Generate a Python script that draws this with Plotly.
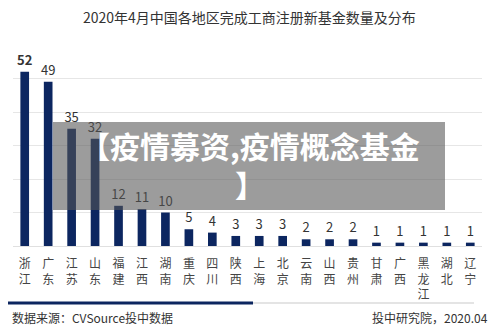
import plotly.graph_objects as go

# ---- data ----
regions = ["浙江", "广东", "江苏", "山东", "福建", "江西", "湖南", "重庆", "四川", "陕西",
           "上海", "北京", "云南", "山西", "贵州", "甘肃", "广西", "黑龙江", "湖北", "辽宁"]
counts = [52, 49, 35, 32, 12, 11, 10, 5, 4, 3, 3, 3, 2, 2, 2, 1, 1, 1, 1, 1]
title_text = "2020年4月中国各地区完成工商注册新基金数量及分布"
source_text = "数据来源：CVSource投中数据"
credit_text = "投中研究院，2020.04"
overlay_text = "【疫情募资,疫情概念基金<br>】"

FONT = "Noto Sans CJK SC"
NAVY = "#0c2660"

# plot area in pixels
L, R, T, B = 13, 482, 45, 246
W, H = 500, 333
PW, PH = R - L, B - T


def px(x):
    return (x - L) / PW


def py(y):
    return (B - y) / PH


tick_labels = ["<br>".join(list(r)) for r in regions]
texts = [("<b>%d</b>" % v) if v == max(counts) else str(v) for v in counts]

fig = go.Figure()
fig.add_trace(go.Bar(
    x=regions, y=counts,
    marker=dict(color=NAVY, line=dict(width=0)),
    text=texts, textposition="outside", cliponaxis=False,
    constraintext="none", textangle=0,
    textfont=dict(family=FONT, size=13, color="#333333"),
    hoverinfo="skip",
))

fig.update_layout(
    width=W, height=H,
    margin=dict(l=L, r=W - R, t=T, b=H - B),
    paper_bgcolor="white", plot_bgcolor="white",
    showlegend=False,
    bargap=0.63,
    font=dict(family=FONT, color="#333333"),
    xaxis=dict(
        tickmode="array", tickvals=regions, ticktext=tick_labels,
        tickfont=dict(family=FONT, size=12, color="#444444"),
        showgrid=False, showline=False, ticks="", tickangle=0,
        ticklabelstandoff=9,
    ),
    yaxis=dict(
        range=[0, 60], dtick=10, showticklabels=False,
        showgrid=True, gridcolor="#e6e6e6", gridwidth=1,
        zeroline=True, zerolinecolor="#e0e0e0", zerolinewidth=1,
        showline=False, ticks="",
    ),
)

annotations = [
    dict(text=title_text, x=px(250), y=py(17), xref="paper", yref="paper",
         showarrow=False, xanchor="center", yanchor="middle",
         font=dict(family=FONT, size=14, color="#333333")),
    dict(text=source_text, x=px(10), y=py(317), xref="paper", yref="paper",
         showarrow=False, xanchor="left", yanchor="middle",
         font=dict(family=FONT, size=12, color="#333333")),
    dict(text=credit_text, x=px(490), y=py(317), xref="paper", yref="paper",
         showarrow=False, xanchor="right", yanchor="middle",
         font=dict(family=FONT, size=12, color="#333333")),
    dict(text="<b>" + overlay_text + "</b>", x=px(250), y=py(164), xref="paper", yref="paper",
         showarrow=False, xanchor="center", yanchor="middle",
         font=dict(family=FONT, size=30, color="white")),
]

shapes = [
    dict(type="rect", xref="paper", yref="paper",
         x0=px(53), x1=px(445), y0=py(210), y1=py(122),
         fillcolor="rgba(85,85,85,0.58)", line=dict(width=0), layer="above"),
    dict(type="line", xref="paper", yref="paper",
         x0=px(8), x1=px(253), y0=py(303), y1=py(303),
         line=dict(color=NAVY, width=3)),
    dict(type="line", xref="paper", yref="paper",
         x0=px(253), x1=px(474), y0=py(303), y1=py(303),
         line=dict(color="#e4e4e4", width=2)),
]

fig.update_layout(annotations=annotations, shapes=shapes)
fig.write_html("out.html")
